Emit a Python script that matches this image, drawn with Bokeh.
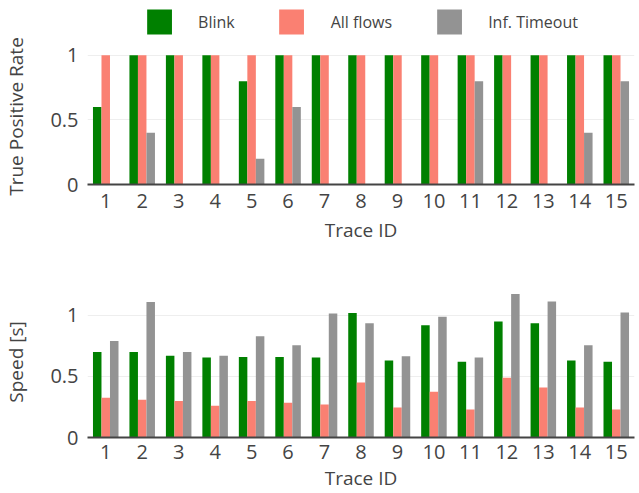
from bokeh.plotting import figure
from bokeh.layouts import column
from bokeh.models import ColumnDataSource, FixedTicker, Legend, LegendItem, Range1d
from bokeh.transform import dodge
from bokeh.embed import file_html
from bokeh.resources import INLINE

# ---------------- data ----------------
trace_ids = [1, 2, 3, 4, 5, 6, 7, 8, 9, 10, 11, 12, 13, 14, 15]
series_names = ["Blink", "All flows", "Inf. Timeout"]
series_colors = ["#008000", "#fa8072", "#939393"]

tpr_blink = [0.6, 1, 1, 1, 0.8, 1, 1, 1, 1, 1, 1, 1, 1, 1, 1]
tpr_all_flows = [1, 1, 1, 1, 1, 1, 1, 1, 1, 1, 1, 1, 1, 1, 1]
tpr_inf_timeout = [0, 0.4, 0, 0, 0.2, 0.6, 0, 0, 0, 0, 0.8, 0, 0, 0.4, 0.8]

speed_blink = [0.70, 0.70, 0.67, 0.655, 0.66, 0.66, 0.655, 1.02, 0.63, 0.92, 0.62, 0.95, 0.935, 0.63, 0.62]
speed_all_flows = [0.325, 0.31, 0.30, 0.26, 0.30, 0.285, 0.27, 0.45, 0.245, 0.375, 0.23, 0.49, 0.41, 0.245, 0.23]
speed_inf_timeout = [0.79, 1.11, 0.70, 0.67, 0.83, 0.755, 1.015, 0.935, 0.665, 0.99, 0.655, 1.175, 1.115, 0.755, 1.025]

y_ticks = [0, 0.5, 1]
y_tick_labels = {0: "0", 0.5: "0.5", 1: "1"}

TEXT = "#444444"
FONT = "Open Sans"
BAR_W = 0.7 / 3
OFFSETS = [-BAR_W, 0.0, BAR_W]
NAN = float("nan")


def make_fig(height, b_top, b_bottom, y_end, ylabel, values, tick_standoff, label_standoff):
    p = figure(width=639, height=height, output_backend="svg", toolbar_location=None,
               x_range=Range1d(0.5, 15.5), y_range=Range1d(0, y_end),
               min_border_left=73, min_border_right=5,
               min_border_top=b_top, min_border_bottom=b_bottom)
    p.outline_line_color = None
    p.background_fill_color = "white"
    p.border_fill_color = "white"

    src = ColumnDataSource(dict(x=trace_ids, s0=values[0], s1=values[1], s2=values[2]))
    for i, (col, c) in enumerate(zip(["s0", "s1", "s2"], series_colors)):
        p.vbar(x=dodge("x", OFFSETS[i], range=p.x_range), top=col, width=BAR_W,
               source=src, fill_color=c, line_color=None)

    p.xgrid.grid_line_color = None
    p.ygrid.grid_line_color = "#eeeeee"
    p.ygrid.grid_line_width = 1

    p.xaxis.ticker = FixedTicker(ticks=trace_ids)
    p.xaxis.axis_label = "Trace ID"
    p.xaxis.axis_line_color = TEXT
    p.xaxis.axis_line_width = 2
    p.xaxis.major_tick_line_color = None
    p.xaxis.minor_tick_line_color = None
    p.xaxis.major_label_standoff = tick_standoff
    p.xaxis.axis_label_standoff = label_standoff

    p.yaxis.ticker = FixedTicker(ticks=y_ticks)
    p.yaxis.major_label_overrides = y_tick_labels
    p.yaxis.axis_label = ylabel
    p.yaxis.axis_line_color = None
    p.yaxis.major_tick_line_color = None
    p.yaxis.minor_tick_line_color = None
    p.yaxis.major_label_standoff = 3
    p.yaxis.axis_label_standoff = 18

    for ax in (p.xaxis[0], p.yaxis[0]):
        ax.major_label_text_font = FONT
        ax.major_label_text_font_size = "20px"
        ax.major_label_text_color = TEXT
        ax.axis_label_text_font = FONT
        ax.axis_label_text_font_size = "19px"
        ax.axis_label_text_font_style = "normal"
        ax.axis_label_text_color = TEXT
    return p


# ---------------- legend strip ----------------
p0 = figure(width=639, height=37, output_backend="svg", toolbar_location=None,
            x_axis_type=None, y_axis_type=None,
            min_border_left=80, min_border_right=5, min_border_top=0, min_border_bottom=0)
p0.outline_line_color = None
p0.xgrid.grid_line_color = None
p0.ygrid.grid_line_color = None
legend_items = []
for name, c in zip(series_names, series_colors):
    r = p0.vbar(x=[NAN], top=[NAN], width=1, fill_color=c, line_color=None)
    legend_items.append(LegendItem(label=name, renderers=[r]))
legend = Legend(items=legend_items, location="bottom_center", orientation="horizontal",
                glyph_width=31, glyph_height=31, label_height=25,
                label_standoff=24, spacing=41, padding=0, margin=0,
                border_line_color=None, background_fill_alpha=0,
                label_text_font=FONT, label_text_font_size="16px",
                label_text_color=TEXT)
p0.add_layout(legend)

p1 = make_fig(213, 11, 66, 1.0526, "True Positive Rate",
              [tpr_blink, tpr_all_flows, tpr_inf_timeout], 3, 6)
p2 = make_fig(243, 36, 56, 1.237, "Speed [s]",
              [speed_blink, speed_all_flows, speed_inf_timeout], 1, 3)

layout = column(p0, p1, p2, spacing=0)
open("out.html", "w").write(file_html(layout, INLINE))
